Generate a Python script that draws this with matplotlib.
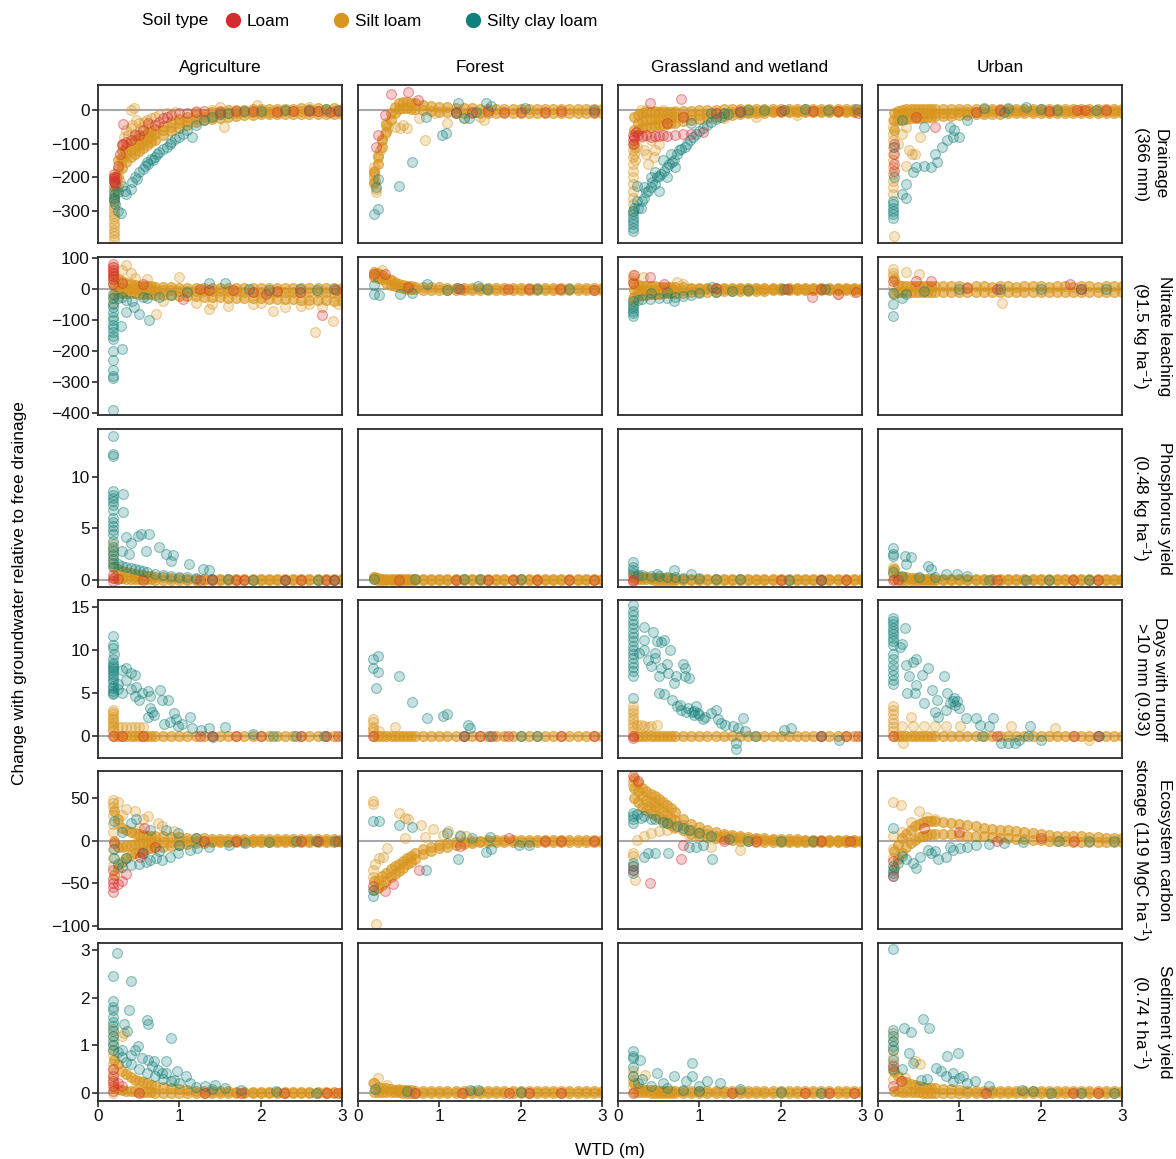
import matplotlib
matplotlib.use("Agg")
import matplotlib.pyplot as plt
from matplotlib.lines import Line2D
from matplotlib.colors import to_rgba

plt.rcParams['font.family'] = ['Liberation Sans', 'DejaVu Sans']
plt.rcParams['mathtext.fontset'] = 'custom'
plt.rcParams['mathtext.rm'] = 'Liberation Sans'
plt.rcParams['mathtext.it'] = 'Liberation Sans:italic'
plt.rcParams['mathtext.bf'] = 'Liberation Sans:bold'

# ---------------- DATA ----------------
soil_names = ['Loam', 'Silt loam', 'Silty clay loam']
soil_colors = {'loam': '#D52A2E', 'silt': '#D9961E', 'clay': '#11807A'}
col_titles = ['Agriculture', 'Forest', 'Grassland and wetland', 'Urban']
row_labels = ['Drainage\n(366 mm)',
              'Nitrate leaching\n(91.5 kg ha$^{-1}$)',
              'Phosphorus yield\n(0.48 kg ha$^{-1}$)',
              'Days with runoff\n>10 mm (0.93)',
              'Ecosystem carbon\nstorage (119 MgC ha$^{-1}$)',
              'Sediment yield\n(0.74 t ha$^{-1}$)']
row_keys = ['drain', 'nit', 'phos', 'days', 'carb', 'sed']
col_keys = ['agri', 'forest', 'grass', 'urban']
x_ticks = [0, 1, 2, 3]
y_ticks = [[-300, -200, -100, 0], [-400, -300, -200, -100, 0, 100], [0, 5, 10],
           [0, 5, 10, 15], [-100, -50, 0, 50], [0, 1, 2, 3]]
y_lims = [(-395, 74), (-405, 102), (-0.7, 14.6), (-2.6, 15.8), (-104, 82), (-0.17, 3.15)]

# water table depths (m) of the dense silt-loam band
wtd = [0.2, 0.25, 0.3, 0.35, 0.4, 0.45, 0.5, 0.55, 0.6, 0.65, 0.7,
       0.8, 0.9, 1.0, 1.1, 1.2, 1.3, 1.4, 1.5, 1.6, 1.7, 1.8, 1.9,
       2.0, 2.1, 2.2, 2.3, 2.4, 2.5, 2.6, 2.7, 2.8, 2.9, 3.0]
flat0 = [0, 0, 0, 0, 0, 0, 0, 0, 0, 0, 0,
         0, 0, 0, 0, 0, 0, 0, 0, 0, 0, 0, 0,
         0, 0, 0, 0, 0, 0, 0, 0, 0, 0, 0]

# ---- Drainage ----
drain_agri_silt_band = [
    [-200, -150, -123, -110, -98, -90, -83, -76, -68, -62, -57, -47, -37, -28, -22, -16, -11, -7, -3, -1, 0, 1, 2, 3, 3, 4, 3, 4, 5, 4, 5, 4, 5, 4],
    [-230, -175, -148, -132, -119, -110, -103, -94, -86, -79, -72, -60, -50, -40, -33, -26, -21, -17, -13, -10, -8, -7, -6, -5, -5, -4, -4, -4, -3, -4, -3, -4, -3, -4],
    [-260, -200, -173, -155, -140, -130, -123, -112, -103, -95, -88, -74, -62, -53, -44, -37, -31, -27, -23, -20, -17, -15, -14, -13, -12, -12, -11, -12, -11, -12, -11, -12, -11, -12]]
drain_agri_silt_pts = [(0.2, -385), (0.2, -375), (0.2, -365), (0.2, -355), (0.2, -345), (0.2, -335), (0.2, -325), (0.2, -315),
                       (0.2, -305), (0.2, -295), (0.2, -285), (0.2, -275), (0.2, -265), (0.21, -250), (0.22, -240), (0.22, -225),
                       (0.21, -215), (0.25, -230), (0.27, -215), (0.3, -100), (0.32, -80), (0.35, -60), (0.37, -75), (0.4, -55),
                       (0.42, -45), (0.4, 0), (0.44, 5), (0.47, -30), (0.5, -40), (0.52, -60), (0.55, -50), (0.57, -35), (0.6, -30),
                       (0.62, -45), (0.65, -25), (0.7, -20), (0.75, -15), (0.85, -10), (0.95, -5), (1.55, -50), (1.5, 8), (1.95, 15),
                       (1.2, -3), (1.4, 0), (2.6, 8), (0.3, -140), (0.33, -125), (0.45, -70)]
drain_agri_loam_pts = [(0.2, -200), (0.2, -205), (0.2, -210), (0.2, -215), (0.21, -220), (0.22, -200), (0.2, -190), (0.24, -165),
                       (0.27, -130), (0.31, -100), (0.3, -105), (0.35, -95), (0.31, -43), (0.4, -88), (0.45, -75), (0.5, -75),
                       (0.55, -60), (0.62, -40), (0.7, -45), (0.75, -35), (0.8, -25), (0.85, -20), (0.9, -15), (1.0, -10), (1.1, -8),
                       (1.2, -5), (1.3, -3), (1.5, -5), (1.7, -3), (1.9, -4), (2.2, -5), (2.4, -3), (2.6, -4), (2.7, -2), (2.85, -5), (2.95, -4)]
drain_agri_clay_pts = [(0.2, -240), (0.2, -250), (0.2, -260), (0.2, -270), (0.21, -280), (0.25, -300), (0.28, -305), (0.25, -245),
                       (0.3, -225), (0.33, -240), (0.35, -250), (0.4, -235), (0.42, -215), (0.45, -200), (0.48, -205), (0.5, -185),
                       (0.55, -175), (0.58, -165), (0.6, -155), (0.62, -160), (0.65, -145), (0.68, -150), (0.7, -140), (0.72, -130),
                       (0.75, -125), (0.8, -115), (0.85, -110), (0.88, -100), (0.9, -95), (0.95, -85), (1.0, -80), (1.05, -70), (1.1, -60),
                       (1.15, -80), (1.2, -45), (1.3, -30), (1.4, -20), (1.5, -12), (1.6, -8), (1.8, -4), (2.0, -2), (2.3, -1), (2.6, 0),
                       (2.8, 2), (2.95, 0)]

drain_forest_silt_band = [
    [-185, -140, -90, -45, -10, 10, 20, 25, 25, 22, 20, 15, 12, 10, 8, 6, 5, 5, 4, 4, 3, 3, 3, 3, 3, 2, 3, 2, 3, 2, 3, 2, 3, 2],
    [-215, -160, -110, -65, -30, -10, 2, 5, 5, 3, 2, 0, -2, -5, -6, -8, -8, -8, -8, -8, -9, -9, -9, -9, -9, -10, -10, -10, -10, -10, -10, -10, -10, -10]]
drain_forest_silt_pts = [(0.2, -180), (0.2, -190), (0.2, -200), (0.21, -210), (0.2, -220), (0.22, -235), (0.22, -245), (0.2, -170),
                         (0.25, -135), (0.27, -120), (0.3, -85), (0.33, -70), (0.35, -40), (0.37, -50), (0.45, -50), (0.52, -55),
                         (0.55, -45), (0.6, -55), (0.75, -25), (0.82, -88), (1.1, -40), (1.3, -25), (1.5, -20), (1.55, -30), (0.95, -10)]
drain_forest_loam_pts = [(0.22, -110), (0.24, -75), (0.33, -15), (0.41, 46), (0.62, 54), (0.74, 29), (1.2, -5), (1.4, -5), (1.6, -3),
                         (1.8, -5), (2.0, -5), (2.3, -5), (2.5, -4), (2.9, -5)]
drain_forest_clay_pts = [(0.2, -310), (0.25, -295), (0.22, -230), (0.25, -205), (0.5, -225), (0.66, -154), (0.84, -21), (1.03, -73),
                         (1.08, -69), (1.23, 20), (1.3, -25), (1.37, -25), (1.57, 22), (1.64, 12), (2.05, 5), (2.9, 0), (1.2, -10), (1.45, -5)]

drain_grass_silt_band = [
    [-20, -15, -8, -5, -5, -5, -5, -5, -5, -5, -5, -3, -2, 0, 0, 1, 2, 2, 3, 3, 3, 3, 3, 3, 3, 3, 3, 3, 3, 3, 3, 3, 3, 3],
    [-60, -40, -32, -30, -28, -27, -26, -25, -24, -22, -21, -18, -16, -14, -12, -10, -8, -7, -6, -5, -4, -4, -3, -3, -2, -2, -2, -2, -2, -2, -2, -2, -2, -2],
    [-100, -60, -55, -52, -50, -48, -46, -44, -42, -40, -38, -34, -30, -27, -23, -20, -17, -14, -12, -10, -9, -8, -7, -6, -6, -5, -5, -5, -5, -5, -5, -5, -5, -5]]
drain_grass_silt_pts = [(0.19, -120), (0.19, -140), (0.19, -160), (0.19, -180), (0.19, -200), (0.19, -220), (0.19, -240), (0.19, -260),
                        (0.19, -280), (0.19, -300), (0.2, -80), (0.2, -130), (0.21, -150), (0.2, -110), (0.28, 0), (0.35, 0), (0.45, -3),
                        (0.55, 0), (0.7, -2), (0.46, -120), (0.44, -140), (0.37, -160), (0.32, -120), (0.41, -90), (0.23, -110), (0.3, -80),
                        (0.35, -130), (0.5, -100), (1.3, -25), (1.7, -20), (2.2, -15)]
drain_grass_loam_pts = [(0.39, 21), (0.78, 33), (0.19, -75), (0.2, -80), (0.25, -75), (0.3, -78), (0.35, -75), (0.4, -80), (0.45, -76),
                        (0.5, -78), (0.55, -75), (0.6, -77), (0.7, -75), (0.8, -72), (0.9, -70), (1.05, -65), (0.19, -100), (0.19, -90),
                        (0.22, -65), (1.2, -10), (1.5, -3), (2.0, -2), (2.4, -3), (2.7, -2), (2.95, -8), (0.6, -40), (0.8, -20)]
drain_grass_clay_pts = [(0.19, -300), (0.19, -310), (0.19, -320), (0.19, -330), (0.19, -340), (0.19, -350), (0.19, -360), (0.2, -290),
                        (0.23, -225), (0.23, -270), (0.25, -290), (0.28, -290), (0.3, -270), (0.32, -260), (0.35, -245), (0.37, -240),
                        (0.4, -230), (0.42, -215), (0.46, -220), (0.48, -200), (0.5, -195), (0.53, -190), (0.56, -180), (0.6, -170),
                        (0.63, -160), (0.66, -155), (0.69, -150), (0.72, -130), (0.75, -120), (0.78, -115), (0.82, -110), (0.85, -100),
                        (0.89, -90), (0.92, -80), (0.96, -70), (1.0, -62), (1.05, -55), (1.1, -45), (1.14, -35), (1.2, -27), (1.27, -20),
                        (1.35, -12), (1.5, -5), (1.6, 0), (1.8, 0), (2.04, 0), (2.3, 2), (2.58, 0), (2.94, 3), (0.32, -230), (0.4, -200),
                        (0.45, -185), (0.55, -150), (0.65, -130), (0.7, -170), (0.6, -200), (0.5, -240), (1.14, -10), (0.9, -40), (1.3, -8)]

drain_urban_silt_band = [
    [-10, -2, 0, 2, 3, 3, 3, 3, 3, 3, 3, 3, 3, 3, 4, 4, 4, 4, 4, 4, 4, 4, 4, 4, 4, 4, 4, 4, 4, 4, 4, 4, 4, 4],
    [-30, -12, -10, -10, -10, -10, -10, -10, -9, -9, -9, -8, -8, -7, -6, -5, -5, -4, -4, -4, -4, -3, -3, -3, -3, -3, -3, -3, -3, -3, -3, -3, -3, -3],
    [-60, -30, -28, -26, -25, -24, -23, -22, -21, -20, -19, -18, -17, -16, -15, -13, -12, -11, -11, -10, -10, -10, -10, -10, -10, -10, -10, -10, -10, -10, -10, -10, -10, -10]]
drain_urban_silt_pts = [(0.19, -30), (0.19, -50), (0.19, -70), (0.19, -90), (0.19, -110), (0.19, -130), (0.19, -150), (0.19, -170),
                        (0.19, -190), (0.19, -210), (0.19, -230), (0.19, -250), (0.34, -50), (0.38, -120), (0.34, -165), (0.52, -80),
                        (0.2, -375), (0.45, -130), (0.42, -132), (0.3, -70), (0.25, -100)]
drain_urban_loam_pts = [(0.2, -130), (0.2, -160), (0.2, -180), (0.2, -100), (0.7, -50), (0.47, -20), (1.5, 0), (2.45, 0), (2.55, 0),
                        (2.8, 0), (1.2, -5), (2.1, -3)]
drain_urban_clay_pts = [(0.19, -270), (0.19, -280), (0.19, -290), (0.19, -300), (0.19, -310), (0.19, -320), (0.2, -110), (0.2, -200),
                        (0.29, -250), (0.34, -260), (0.34, -220), (0.43, -185), (0.47, -170), (0.56, -165), (0.65, -170), (0.72, -155),
                        (0.7, -130), (0.79, -110), (0.85, -90), (0.92, -80), (0.99, -80), (0.94, -60), (0.88, -50), (0.56, -50), (0.29, -30),
                        (1.1, -30), (1.55, -5), (1.82, 10), (2.2, 0), (2.68, 0), (1.3, 5), (1.6, 5), (2.0, 3)]

# ---- Nitrate leaching ----
nit_agri_silt_band = [
    [40, 30, 25, 20, 15, 12, 10, 10, 8, 8, 6, 5, 5, 4, 4, 3, 3, 3, 3, 3, 3, 3, 2, 2, 2, 2, 2, 2, 2, 2, 2, 2, 2, 2],
    [10, 5, 3, 2, 0, 0, -2, -3, -3, -4, -4, -5, -5, -6, -6, -6, -7, -7, -8, -8, -8, -9, -9, -9, -10, -10, -10, -10, -11, -11, -11, -11, -12, -12],
    [-20, -15, -15, -14, -14, -15, -16, -17, -18, -18, -19, -20, -20, -22, -22, -24, -25, -25, -27, -28, -28, -30, -30, -30, -32, -32, -33, -33, -35, -35, -36, -36, -38, -38]]
nit_agri_silt_pts = [(0.18, 70), (0.18, 60), (0.18, 50), (0.18, 40), (0.18, 30), (0.18, 20), (0.18, -30), (0.18, -45), (0.34, 75),
                     (0.3, 60), (0.4, 50), (1.0, 38), (0.71, -80), (1.37, -65), (2.15, -70), (2.67, -140), (2.89, -102), (1.6, -55),
                     (1.9, -50), (2.3, -60), (2.5, -55), (2.75, -60), (2.95, -50), (1.2, -45), (0.8, -40), (2.0, -45), (2.6, -48),
                     (1.4, -50), (0.6, 30), (0.45, 35)]
nit_agri_loam_pts = [(0.18, 80), (0.18, 70), (0.18, 60), (0.18, 50), (0.18, 40), (0.18, 30), (0.18, 16), (0.55, 16), (1.04, -32),
                     (1.25, 0), (1.36, -5), (1.66, -5), (2.07, -16), (2.48, -11), (2.75, -84), (2.93, -5), (0.3, 20), (2.2, -8), (1.9, -10)]
nit_agri_clay_pts = [(0.18, -16), (0.18, -30), (0.18, -50), (0.18, -60), (0.18, -75), (0.18, -90), (0.18, -100), (0.18, -115),
                     (0.18, -125), (0.18, -140), (0.18, -150), (0.18, -160), (0.18, -200), (0.18, -230), (0.18, -260), (0.18, -280),
                     (0.18, -285), (0.18, -390), (0.3, -194), (0.28, -118), (0.34, -75), (0.44, -59), (0.5, -80), (0.63, -99), (0.3, -27),
                     (0.42, -38), (0.75, -27), (1.37, 19), (1.56, 19), (1.86, 0), (2.48, 0), (2.69, -5), (0.25, -30), (0.35, -35),
                     (0.55, -25), (0.6, -30), (0.9, -20), (1.1, -10), (2.1, -3), (2.9, -2)]

nit_forest_silt_band = [
    [54, 50, 45, 35, 27, 20, 15, 12, 10, 8, 7, 6, 5, 5, 4, 4, 4, 4, 3, 3, 3, 3, 3, 3, 3, 3, 3, 3, 3, 3, 3, 3, 3, 3],
    [38, 35, 30, 20, 12, 8, 5, 3, 0, -1, -2, -3, -3, -4, -4, -4, -4, -5, -5, -5, -5, -5, -5, -5, -5, -5, -5, -5, -5, -5, -5, -5, -5, -5]]
nit_forest_silt_pts = [(0.3, 59), (0.41, 27), (0.45, 21), (0.2, 45), (0.22, 50), (0.26, 42)]
nit_forest_loam_pts = [(0.33, 48), (0.2, 48), (0.62, 5), (1.25, 0), (1.85, 0), (2.1, 0), (2.48, 0), (2.9, -3)]
nit_forest_clay_pts = [(0.2, 11), (0.2, -16), (0.26, -21), (0.52, -16), (0.66, -14), (0.85, 16), (1.09, -5), (1.23, 3), (1.47, 8),
                       (1.59, 0), (2.2, 0), (2.6, 0)]

nit_grass_silt_band = [
    [15, 12, 10, 9, 8, 8, 7, 7, 6, 6, 5, 5, 4, 4, 4, 3, 3, 3, 3, 3, 3, 3, 3, 2, 2, 2, 2, 2, 2, 2, 2, 2, 2, 2],
    [-5, -5, -5, -5, -4, -4, -4, -4, -3, -3, -3, -3, -2, -2, -2, -2, -1, -1, -1, -1, -1, -1, 0, 0, 0, 0, 0, 0, 0, 0, 0, 0, 0, 0],
    [-25, -22, -20, -19, -18, -17, -16, -15, -14, -14, -13, -12, -11, -10, -9, -9, -8, -7, -7, -6, -6, -6, -5, -5, -5, -5, -5, -5, -5, -5, -5, -5, -5, -5]]
nit_grass_silt_pts = [(0.19, 43), (0.19, 35), (0.19, 25), (0.19, -30), (0.19, -40), (0.19, -48), (0.31, 38), (0.73, 21), (0.8, 16),
                      (2.7, -16), (2.9, -10)]
nit_grass_loam_pts = [(0.2, 43), (0.39, 38), (0.56, 16), (2.38, -27), (2.7, -16), (2.93, -11), (2.08, 0), (2.5, 0), (1.2, 2), (0.19, 20)]
nit_grass_clay_pts = [(0.19, -54), (0.19, -62), (0.19, -70), (0.19, -78), (0.19, -86), (0.19, -40), (0.25, -35), (0.3, -33), (0.39, -32),
                      (0.5, -30), (0.6, -28), (0.69, -38), (0.7, -25), (0.8, -22), (0.9, -20), (1.0, -15), (1.15, 5), (1.2, -10), (1.4, -6),
                      (1.6, -3), (2.04, 0), (2.55, 0), (0.4, -15), (0.6, -10)]

nit_urban_silt_band = [
    [30, 12, 10, 10, 9, 10, 9, 9, 9, 8, 8, 8, 8, 8, 7, 8, 8, 7, 8, 8, 7, 8, 8, 8, 7, 8, 8, 7, 8, 8, 7, 8, 8, 8],
    [-17, -10, -10, -9, -10, -10, -9, -10, -10, -9, -10, -10, -9, -10, -10, -9, -10, -10, -9, -10, -10, -9, -10, -10, -9, -10, -10, -9, -10, -10, -9, -10, -10, -10]]
nit_urban_silt_pts = [(0.19, 63), (0.19, 50), (0.19, 40), (0.34, 53), (0.5, 49), (1.52, -47), (0.19, 10)]
nit_urban_loam_pts = [(0.19, 26), (0.47, 26), (0.65, 26), (1.46, 0), (2.36, 15), (2.5, 0), (1.1, 3)]
nit_urban_clay_pts = [(0.19, -12), (0.19, -50), (0.19, -87), (0.29, -28), (0.34, -17), (0.56, -6), (1.0, 0), (1.5, 0), (2.0, 0), (2.5, 0), (2.8, 0)]

# ---- Phosphorus yield ----
phos_agri_silt_band = [
    [1.2, 1.0, 0.85, 0.75, 0.65, 0.55, 0.5, 0.45, 0.4, 0.35, 0.3, 0.25, 0.2, 0.15, 0.12, 0.1, 0.08, 0.07, 0.06, 0.05, 0.05, 0.05, 0.05, 0.05, 0.05, 0.05, 0.05, 0.05, 0.05, 0.05, 0.05, 0.05, 0.05, 0.05],
    [0.2, 0.2, 0.15, 0.12, 0.1, 0.08, 0.06, 0.05, 0.04, 0.03, 0.02, 0.02, 0.01, 0.01, 0, 0, 0, 0, 0, 0, 0, 0, 0, 0, 0, 0, 0, 0, 0, 0, 0, 0, 0, 0]]
phos_agri_silt_pts = [(0.18, 3.5), (0.18, 3.0), (0.18, 2.5), (0.18, 2.0), (0.18, 1.5), (0.3, 0.2)]
phos_agri_loam_pts = [(0.18, 0.2), (0.18, -0.1), (0.18, 0.5), (0.55, 0), (1.25, 0), (1.4, 0), (1.7, 0), (1.8, 0), (2.3, 0), (2.5, 0),
                      (2.8, 0), (2.9, 0), (0.25, 0.1)]
phos_agri_clay_pts = [(0.18, 13.9), (0.18, 12.2), (0.18, 12.0), (0.18, 8.6), (0.18, 8.2), (0.18, 7.9), (0.18, 7.6), (0.18, 7.2),
                      (0.18, 6.8), (0.18, 6.0), (0.18, 5.6), (0.18, 5.2), (0.18, 4.8), (0.18, 4.4), (0.18, 3.8), (0.18, 3.2), (0.18, 2.8),
                      (0.18, 2.4), (0.18, 2.0), (0.18, 1.6), (0.18, 1.2), (0.31, 8.3), (0.31, 6.6), (0.34, 4.1), (0.4, 3.6), (0.49, 4.2),
                      (0.53, 4.4), (0.63, 4.4), (0.75, 3.2), (0.84, 2.5), (0.92, 2.4), (0.9, 1.8), (0.59, 2.8), (1.12, 1.5), (1.29, 1.0),
                      (1.37, 0.9), (0.3, 2.8), (0.38, 2.5), (0.25, 1.5), (0.3, 1.3), (0.35, 1.2), (0.4, 1.1), (0.45, 1.0), (0.5, 0.9),
                      (0.55, 0.85), (0.6, 0.8), (0.7, 0.6), (0.8, 0.5), (0.9, 0.4), (1.0, 0.3), (1.1, 0.25), (1.2, 0.2), (1.4, 0.1),
                      (1.6, 0.05), (1.9, 0), (2.3, 0), (2.7, 0), (2.9, 0)]

phos_forest_silt_band = [
    [0.25, 0.15, 0.12, 0.1, 0.1, 0.08, 0.08, 0.07, 0.07, 0.06, 0.06, 0.06, 0.05, 0.05, 0.05, 0.05, 0.05, 0.05, 0.05, 0.05, 0.05, 0.05, 0.05, 0.05, 0.05, 0.05, 0.05, 0.05, 0.05, 0.05, 0.05, 0.05, 0.05, 0.05],
    [0.05, 0.02, 0.02, 0.01, 0.01, 0.01, 0.01, 0.01, 0, 0, 0, 0, 0, 0, 0, 0, 0, 0, 0, 0, 0, 0, 0, 0, 0, 0, 0, 0, 0, 0, 0, 0, 0, 0]]
phos_forest_silt_pts = [(0.2, 0.3), (0.22, 0.2)]
phos_forest_loam_pts = [(0.5, 0), (1.2, 0), (1.6, 0), (1.9, 0), (2.2, 0), (2.6, 0), (2.9, 0)]
phos_forest_clay_pts = [(0.2, 0.1), (1.3, 0.05), (1.5, 0.05), (2.0, 0.05), (0.7, 0.05)]

phos_grass_silt_band = [
    [0.3, 0.28, 0.25, 0.22, 0.2, 0.18, 0.16, 0.15, 0.14, 0.13, 0.12, 0.1, 0.09, 0.08, 0.07, 0.06, 0.06, 0.05, 0.05, 0.05, 0.05, 0.05, 0.05, 0.05, 0.05, 0.05, 0.05, 0.05, 0.05, 0.05, 0.05, 0.05, 0.05, 0.05],
    [0.05, 0.05, 0.04, 0.03, 0.03, 0.02, 0.02, 0.02, 0.01, 0.01, 0.01, 0, 0, 0, 0, 0, 0, 0, 0, 0, 0, 0, 0, 0, 0, 0, 0, 0, 0, 0, 0, 0, 0, 0]]
phos_grass_silt_pts = [(0.19, 0.5), (0.19, 0.4)]
phos_grass_loam_pts = [(0.19, 0), (0.19, -0.1), (2.0, 0), (2.5, 0), (2.8, 0)]
phos_grass_clay_pts = [(0.18, 1.7), (0.18, 1.2), (0.18, 0.9), (0.18, 0.7), (0.69, 0.9), (0.9, 0.55), (0.48, 0.55), (0.25, 0.5),
                       (0.3, 0.45), (0.4, 0.4), (0.5, 0.35), (0.6, 0.3), (0.7, 0.25), (0.8, 0.2), (1.0, 0.15), (1.2, 0.1), (1.5, 0.05),
                       (2.1, 0.02), (2.5, 0.02)]

phos_urban_silt_band = [
    [1.0, 0.4, 0.3, 0.25, 0.2, 0.18, 0.15, 0.12, 0.1, 0.1, 0.08, 0.07, 0.06, 0.05, 0.05, 0.05, 0.05, 0.05, 0.05, 0.05, 0.05, 0.05, 0.05, 0.05, 0.05, 0.05, 0.05, 0.05, 0.05, 0.05, 0.05, 0.05, 0.05, 0.05],
    [0.05, 0.03, 0.02, 0.02, 0.01, 0.01, 0.01, 0, 0, 0, 0, 0, 0, 0, 0, 0, 0, 0, 0, 0, 0, 0, 0, 0, 0, 0, 0, 0, 0, 0, 0, 0, 0, 0]]
phos_urban_silt_pts = [(0.19, 1.2), (0.19, 0.9), (0.19, 0.6), (0.3, 0.2)]
phos_urban_loam_pts = [(0.19, 0), (1.46, 0), (2.4, 0), (2.7, 0), (0.25, 0)]
phos_urban_clay_pts = [(0.19, 3.1), (0.19, 2.5), (0.19, 2.3), (0.33, 2.3), (0.4, 2.2), (0.34, 1.5), (0.61, 1.3), (0.65, 1.0), (0.83, 0.55),
                       (0.97, 0.6), (1.1, 0.4), (0.3, 0.4), (1.37, 0), (1.82, 0), (2.1, 0), (0.19, 0.8), (0.5, 0.3), (0.7, 0.3), (2.6, 0)]

# ---- Days with runoff > 10 mm ----
days_agri_silt_band = [flat0]
days_agri_silt_pts = [(0.19, 3.0), (0.19, 2.8), (0.19, 2.5), (0.19, 2.2), (0.19, 2.0), (0.19, 1.8), (0.19, 1.5), (0.19, 1.2),
                      (0.19, 1.0), (0.19, 0.7), (0.19, 0.5), (0.25, 1), (0.3, 1), (0.35, 1), (0.4, 1), (0.45, 1), (0.5, 1), (0.55, 1)]
days_agri_loam_pts = [(0.19, 0), (0.3, 0), (0.55, 0), (1.25, 0), (1.4, 0), (1.7, 0), (2.0, 0), (2.5, 0), (2.8, 0), (2.95, 0)]
days_agri_clay_pts = [(0.19, 11.6), (0.19, 10.6), (0.19, 10.2), (0.19, 8.9), (0.19, 8.5), (0.19, 8.2), (0.19, 8.0), (0.19, 7.8),
                      (0.19, 7.5), (0.19, 7.2), (0.19, 7.0), (0.19, 6.6), (0.19, 6.2), (0.19, 5.8), (0.19, 5.5), (0.19, 5.2), (0.19, 5.0),
                      (0.19, 4.8), (0.25, 5.4), (0.3, 7.7), (0.35, 7.9), (0.4, 7.3), (0.45, 7.1), (0.35, 6.5), (0.4, 5.4), (0.47, 5.7),
                      (0.45, 4.6), (0.5, 4.2), (0.54, 5.0), (0.62, 5.2), (0.64, 4.6), (0.76, 5.3), (0.79, 4.2), (0.86, 4.2), (0.64, 3.2),
                      (0.62, 2.2), (0.69, 2.4), (0.67, 2.8), (0.81, 1.4), (0.88, 1.6), (0.93, 2.6), (0.96, 2.0), (1.03, 1.4), (1.13, 2.2),
                      (0.98, 1.1), (1.15, 0.9), (1.27, 0.7), (1.37, 0.9), (1.56, 1.0), (1.42, -0.1), (1.9, 0.2), (2.15, 0), (2.44, 0),
                      (2.78, 0), (0.25, 6.0), (0.3, 5.0), (0.2, 9.5)]

days_forest_silt_band = [flat0]
days_forest_silt_pts = [(0.19, 2.0), (0.19, 1.6), (0.19, 1.0), (0.19, 0.8), (0.19, 0.4), (0.46, 1.0), (0.26, 0.6)]
days_forest_loam_pts = [(0.19, 0), (1.3, 0), (1.5, 0), (1.65, 0), (1.85, 0), (2.5, 0), (2.9, 0)]
days_forest_clay_pts = [(0.19, 8.9), (0.25, 9.3), (0.19, 7.9), (0.24, 7.4), (0.22, 5.6), (0.5, 7.0), (0.66, 3.9), (0.85, 2.1), (1.04, 2.3),
                        (1.09, 2.5), (1.35, 1.25), (1.38, 0.9), (1.62, 0), (1.3, 0), (2.0, 0), (2.2, 0)]

days_grass_silt_band = [flat0]
days_grass_silt_pts = [(0.19, 3.4), (0.19, 3.0), (0.19, 2.6), (0.19, 2.2), (0.19, 1.8), (0.19, 1.4), (0.19, 1.0), (0.19, 0.6),
                       (0.23, 1.3), (0.32, 1.1), (0.41, 1.1), (0.48, 1.3), (0.28, 1.2), (0.37, 1.0)]
days_grass_loam_pts = [(0.19, 0), (0.19, -0.3), (2.5, 0), (2.8, 0), (2.95, 0)]
days_grass_clay_pts = [(0.19, 15.2), (0.19, 14.5), (0.19, 14.0), (0.19, 13.5), (0.19, 13.0), (0.19, 12.5), (0.19, 12.0), (0.19, 11.5),
                       (0.19, 11.0), (0.19, 10.5), (0.19, 10.0), (0.19, 9.5), (0.19, 9.0), (0.19, 8.5), (0.19, 8.0), (0.19, 7.5),
                       (0.19, 6.9), (0.19, 4.4), (0.32, 12.7), (0.43, 12.1), (0.32, 11.2), (0.32, 10.0), (0.37, 8.8), (0.26, 9.6),
                       (0.48, 11.0), (0.53, 10.9), (0.57, 11.1), (0.64, 10.0), (0.46, 9.6), (0.45, 9.0), (0.41, 8.1), (0.53, 7.9),
                       (0.5, 6.9), (0.6, 8.3), (0.62, 7.3), (0.69, 6.1), (0.71, 6.9), (0.8, 8.4), (0.82, 7.9), (0.82, 6.9), (0.87, 6.7),
                       (0.5, 5.0), (0.57, 4.8), (0.66, 4.2), (0.73, 3.4), (0.78, 3.0), (0.84, 2.8), (0.91, 2.8), (0.96, 3.4), (0.93, 2.4),
                       (1.0, 2.4), (1.07, 2.2), (1.14, 2.6), (1.2, 3.0), (1.23, 1.9), (1.27, 1.5), (1.32, 1.3), (1.41, 1.1), (1.47, 0.9),
                       (1.54, 2.1), (1.56, 0.5), (1.45, -0.85), (1.45, -1.6), (1.68, 0.0), (2.04, 0.7), (2.13, 0.9), (2.49, 0.0),
                       (2.72, -0.5), (0.86, 3.2), (0.93, 2.9), (0.98, 2.6), (0.76, 3.6), (1.05, 2.0)]

days_urban_silt_band = [flat0]
days_urban_silt_pts = [(0.19, 3.5), (0.19, 3.0), (0.19, 2.5), (0.19, 2.0), (0.19, 1.5), (0.19, 1.0), (0.19, 0.5), (0.4, 2.2),
                       (0.31, -0.85), (0.29, 1.1), (0.43, 1.1), (0.56, 1.1), (0.7, 1.1), (0.83, 1.1), (1.01, 1.1), (1.64, 1.1),
                       (2.18, 0.9), (2.59, -0.5)]
days_urban_loam_pts = [(0.19, 0), (1.46, 0), (2.41, 0), (2.7, 0)]
days_urban_clay_pts = [(0.19, 13.7), (0.19, 13.4), (0.19, 13.0), (0.19, 12.5), (0.19, 12.2), (0.19, 11.8), (0.19, 11.4), (0.19, 11.0),
                       (0.19, 10.6), (0.19, 9.5), (0.19, 8.9), (0.19, 8.2), (0.19, 7.7), (0.19, 7.1), (0.19, 6.5), (0.19, 6.0),
                       (0.33, 12.5), (0.29, 10.7), (0.27, 10.3), (0.34, 8.2), (0.43, 8.6), (0.47, 8.9), (0.38, 6.9), (0.47, 5.9),
                       (0.36, 5.0), (0.45, 5.0), (0.54, 7.1), (0.61, 7.9), (0.56, 3.8), (0.67, 5.3), (0.72, 4.2), (0.81, 6.9), (0.85, 5.0),
                       (0.88, 3.8), (0.92, 4.0), (0.97, 4.0), (0.99, 3.2), (0.83, 3.0), (0.74, 2.2), (0.7, 2.8), (1.08, 2.1), (1.21, 2.1),
                       (1.26, 1.3), (1.37, 1.1), (1.42, 2.1), (1.51, -0.85), (1.6, -0.85), (1.69, -0.85), (1.73, -0.5), (1.87, 1.1),
                       (1.85, 0.0), (2.0, -0.5), (1.28, 0.0), (2.72, 0.0), (0.93, 4.4), (0.95, 3.6)]

# ---- Ecosystem carbon storage ----
carb_agri_silt_band = [
    [35, 25, 15, 12, 10, 9, 8, 7, 6, 6, 5, 5, 4, 4, 3, 3, 3, 2, 2, 2, 2, 2, 2, 2, 2, 2, 2, 2, 2, 2, 2, 2, 2, 2],
    [0, -8, -8, -6, -5, -4, -3, -3, -2, -2, -1, -1, -1, 0, 0, 0, 0, 0, 0, 0, 0, 0, 0, 0, 0, 0, 0, 0, 0, 0, 0, 0, 0, 0],
    [-40, -32, -25, -20, -17, -15, -13, -12, -10, -9, -8, -7, -6, -5, -4, -3, -3, -2, -2, -2, -2, -2, -2, -2, -2, -2, -2, -2, -2, -2, -2, -2, -2, -2]]
carb_agri_silt_pts = [(0.19, 48), (0.19, 44), (0.19, 40), (0.19, 30), (0.19, 20), (0.19, 10), (0.19, -10), (0.19, -20), (0.19, -30),
                      (0.25, 45), (0.35, 37), (0.45, 35), (0.62, 29), (0.74, 21), (0.79, 17), (0.93, 11), (0.25, 21), (0.3, 30),
                      (0.55, 25), (0.5, 15)]
carb_agri_loam_pts = [(0.19, -35), (0.19, -45), (0.19, -50), (0.19, -55), (0.19, -60), (0.25, -51), (0.3, -47), (0.35, -39), (0.52, -19),
                      (0.54, -15), (0.57, 15), (0.2, -3), (1.3, 0), (1.7, 0), (2.5, 0), (2.7, 0), (2.95, 0), (0.7, -8)]
carb_agri_clay_pts = [(0.2, 23), (0.4, 21), (0.47, 25), (0.25, -27), (0.3, -31), (0.4, -29), (0.5, -27), (0.59, -25), (0.64, -23),
                      (0.71, -21), (0.79, -23), (0.88, -19), (0.98, -15), (1.13, -11), (1.22, -9), (1.37, -7), (1.61, -5), (1.81, -3),
                      (2.1, -2), (2.44, 0), (2.68, 0), (2.92, 0), (0.64, 13), (0.83, 13), (0.98, 9), (0.35, -20), (0.55, -15),
                      (0.75, -12), (0.2, -20), (0.2, -10), (0.3, 10), (1.0, -5), (1.2, 3)]

carb_forest_silt_band = [
    [-48, -46, -42, -38, -33, -30, -27, -24, -21, -18, -15, -10, -7, -5, -3, -2, -1, 0, 0, 1, 1, 1, 1, 1, 1, 1, 1, 1, 1, 1, 1, 1, 1, 1],
    [-58, -56, -52, -47, -43, -39, -36, -32, -28, -25, -22, -16, -12, -9, -7, -5, -4, -3, -2, -2, -2, -2, -2, -2, -2, -2, -2, -2, -2, -2, -2, -2, -2, -2]]
carb_forest_silt_pts = [(0.19, 47), (0.19, 43), (0.21, -27), (0.19, -43), (0.26, -21), (0.31, -19), (0.36, -9), (0.22, -98), (0.5, 32),
                        (0.58, 27), (0.62, 25), (0.77, 19), (0.92, 14), (1.11, 11), (1.26, 7), (1.33, 5), (0.58, 3), (0.82, 4), (1.04, 7),
                        (0.19, -35)]
carb_forest_loam_pts = [(0.19, -53), (0.33, -59), (0.43, -51), (0.75, -35), (1.26, -6), (1.86, 3), (2.49, 0), (2.3, 0), (2.9, 0)]
carb_forest_clay_pts = [(0.19, 23), (0.26, 23), (0.5, 18), (0.67, 16), (0.84, -35), (0.19, -65), (1.23, -22), (1.57, -13), (1.64, -10),
                        (1.09, 9), (1.26, 5), (1.4, 3), (1.62, 4), (1.98, -5), (2.1, -5), (0.19, -58)]

carb_grass_silt_band = [
    [74, 68, 62, 58, 55, 52, 49, 45, 42, 38, 34, 26, 20, 16, 12, 10, 8, 7, 5, 4, 3, 3, 2, 2, 2, 2, 1, 1, 1, 1, 1, 1, 1, 1],
    [62, 58, 52, 48, 45, 41, 38, 34, 30, 27, 24, 18, 13, 10, 8, 6, 5, 4, 3, 2, 2, 1, 1, 0, 0, 0, 0, 0, 0, 0, 0, 0, 0, 0],
    [50, 45, 40, 36, 33, 30, 27, 24, 21, 18, 16, 12, 8, 6, 4, 3, 2, 1, 0, 0, -1, -1, -1, -1, -1, -1, -1, -1, -1, -1, -1, -1, -1, -1]]
carb_grass_silt_pts = [(0.19, -15), (0.19, -18), (0.19, -30), (0.23, 1), (0.32, 5), (0.41, 9), (0.5, 11), (0.6, 13), (0.69, 15),
                       (0.87, 7), (1.14, -7), (1.5, -11), (0.21, -46), (0.46, 44), (0.37, 41), (0.19, 70), (0.19, 66)]
carb_grass_loam_pts = [(0.19, 76), (0.78, -22), (0.39, -50), (0.19, -34), (1.3, 0), (1.7, 0), (2.5, 0), (2.85, 0), (0.25, 70), (0.8, -5)]
carb_grass_clay_pts = [(0.19, 33), (0.19, 29), (0.19, 25), (0.19, 21), (0.19, -26), (0.19, -30), (0.19, -34), (0.19, -38), (0.23, 31),
                       (0.32, 29), (0.46, 25), (0.6, 21), (0.73, 17), (0.87, 13), (1.0, 9), (1.14, 5), (1.36, 2), (0.46, -15), (0.62, -15),
                       (0.87, -7), (0.96, -7), (1.05, -5), (1.16, -22), (0.32, -19), (0.37, -15), (0.28, 27), (0.4, 26), (0.55, 22),
                       (0.8, 15), (1.6, 0), (2.0, 0), (2.4, 0)]

carb_urban_silt_band = [
    [-12, -5, 3, 8, 12, 17, 20, 22, 23, 23, 23, 22, 21, 20, 18, 17, 15, 14, 13, 12, 11, 10, 9, 8, 7, 6, 6, 5, 5, 4, 4, 3, 3, 3],
    [-32, -22, -14, -8, -3, 1, 4, 6, 7, 8, 8, 8, 8, 7, 6, 5, 5, 4, 3, 3, 2, 2, 1, 1, 0, 0, 0, -1, -1, -1, -1, -1, -1, -1]]
carb_urban_silt_pts = [(0.19, 46), (0.28, 42), (0.5, 35), (0.7, 25), (0.19, 5), (0.19, -20), (0.19, -10), (0.3, 10), (0.4, 22), (0.6, 28)]
carb_urban_loam_pts = [(0.19, -42), (0.19, -24), (0.56, 15), (1.46, 0), (2.41, 0), (1.0, 10), (2.0, 3)]
carb_urban_clay_pts = [(0.19, 15), (0.19, -30), (0.19, -34), (0.19, -38), (0.19, -42), (0.25, -26), (0.34, -22), (0.43, -26), (0.52, -19),
                       (0.61, -11), (0.65, -15), (0.74, -22), (0.83, -19), (0.92, -11), (1.01, -9), (1.1, -7), (1.37, -4), (1.55, -3),
                       (1.78, -1), (2.23, 0), (0.47, -32), (0.3, -18), (0.7, -12), (0.88, -8), (1.2, -5), (2.6, 0), (2.9, 0)]

# ---- Sediment yield ----
sed_agri_silt_band = [
    [0.7, 0.6, 0.45, 0.4, 0.33, 0.28, 0.25, 0.22, 0.2, 0.17, 0.15, 0.12, 0.1, 0.08, 0.07, 0.05, 0.04, 0.03, 0.03, 0.03, 0.02, 0.02, 0.02, 0.02, 0.02, 0.02, 0.02, 0.02, 0.02, 0.02, 0.02, 0.02, 0.02, 0.02],
    [0.1, 0.08, 0.06, 0.05, 0.04, 0.03, 0.02, 0.02, 0.01, 0.01, 0, 0, 0, 0, 0, 0, 0, 0, 0, 0, 0, 0, 0, 0, 0, 0, 0, 0, 0, 0, 0, 0, 0, 0]]
sed_agri_silt_pts = [(0.19, 1.35), (0.19, 1.2), (0.19, 1.0), (0.19, 0.9), (0.19, 0.8), (0.19, 0.6), (0.19, 0.5), (0.19, 0.4), (0.19, 0.3),
                     (0.19, 0.2), (0.19, 0.0), (0.3, 1.19), (0.32, 1.26)]
sed_agri_loam_pts = [(0.19, 0.5), (0.19, 0.35), (0.19, 0.25), (0.19, 0.15), (0.19, 0.05), (0.3, 0.14), (0.5, 0), (1.32, 0), (1.76, 0),
                     (2.29, 0), (2.82, 0), (2.95, 0), (0.25, 0.2)]
sed_agri_clay_pts = [(0.23, 2.93), (0.19, 2.45), (0.41, 2.36), (0.38, 1.74), (0.19, 1.94), (0.19, 1.8), (0.19, 1.75), (0.19, 1.6),
                     (0.19, 1.5), (0.19, 1.4), (0.19, 1.3), (0.19, 1.2), (0.19, 1.1), (0.19, 1.0), (0.19, 0.9), (0.32, 1.45), (0.36, 1.3),
                     (0.6, 1.54), (0.62, 1.44), (0.9, 1.16), (0.49, 0.98), (0.45, 0.91), (0.3, 0.91), (0.4, 0.8), (0.54, 0.74),
                     (0.62, 0.7), (0.69, 0.67), (0.83, 0.68), (0.67, 0.56), (0.74, 0.49), (0.79, 0.42), (0.83, 0.42), (0.97, 0.46),
                     (1.08, 0.35), (0.93, 0.28), (1.13, 0.21), (1.44, 0.17), (1.56, 0.1), (1.32, 0.14), (1.76, 0.07), (2.19, 0.04),
                     (2.68, 0.0), (0.3, 0.75), (0.4, 0.6), (0.5, 0.5), (0.6, 0.42), (0.7, 0.35), (0.8, 0.3), (0.9, 0.25), (1.0, 0.2),
                     (1.2, 0.12), (1.4, 0.08), (0.25, 0.85), (0.35, 0.65)]

sed_forest_silt_band = [
    [0.2, 0.12, 0.1, 0.1, 0.08, 0.07, 0.07, 0.06, 0.06, 0.06, 0.05, 0.05, 0.05, 0.05, 0.05, 0.05, 0.05, 0.05, 0.05, 0.05, 0.05, 0.05, 0.05, 0.05, 0.05, 0.05, 0.05, 0.05, 0.05, 0.05, 0.05, 0.05, 0.05, 0.05],
    [0.02, 0.01, 0.01, 0.01, 0.01, 0.01, 0.01, 0, 0, 0, 0, 0, 0, 0, 0, 0, 0, 0, 0, 0, 0, 0, 0, 0, 0, 0, 0, 0, 0, 0, 0, 0, 0, 0]]
sed_forest_silt_pts = [(0.24, 0.31), (0.19, 0.21), (0.36, 0.16), (0.5, 0.08)]
sed_forest_loam_pts = [(1.28, 0), (1.86, 0), (2.49, 0), (2.1, 0), (0.7, 0)]
sed_forest_clay_pts = [(0.21, 0.08), (1.38, 0.06), (1.47, 0.07), (0.6, 0.03), (2.0, 0.02)]

sed_grass_silt_band = [
    [0.2, 0.1, 0.08, 0.07, 0.06, 0.06, 0.05, 0.05, 0.05, 0.05, 0.04, 0.04, 0.04, 0.04, 0.04, 0.04, 0.04, 0.04, 0.04, 0.04, 0.04, 0.04, 0.04, 0.04, 0.04, 0.04, 0.04, 0.04, 0.04, 0.04, 0.04, 0.04, 0.04, 0.04],
    [0.02, 0.01, 0.01, 0.01, 0, 0, 0, 0, 0, 0, 0, 0, 0, 0, 0, 0, 0, 0, 0, 0, 0, 0, 0, 0, 0, 0, 0, 0, 0, 0, 0, 0, 0, 0]]
sed_grass_silt_pts = [(0.19, 0.46), (0.19, 0.35), (0.19, 0.25), (0.33, 0.37), (0.19, 0.15)]
sed_grass_loam_pts = [(0.19, 0), (1.4, 0), (2.3, 0), (2.6, 0), (2.9, 0)]
sed_grass_clay_pts = [(0.19, 0.88), (0.19, 0.78), (0.19, 0.74), (0.27, 0.7), (0.19, 0.35), (0.48, 0.42), (0.69, 0.35), (0.91, 0.63),
                      (0.84, 0.25), (0.91, 0.35), (1.09, 0.25), (1.25, 0.21), (1.0, 0.14), (1.5, 0.08), (0.25, 0.2), (0.4, 0.15),
                      (0.6, 0.1), (0.8, 0.07), (1.0, 0.05), (0.19, 0.55), (0.3, 0.3), (0.55, 0.2), (2.0, 0.02), (2.5, 0.0)]

sed_urban_silt_band = [
    [0.45, 0.35, 0.25, 0.22, 0.18, 0.16, 0.14, 0.12, 0.11, 0.1, 0.1, 0.09, 0.08, 0.06, 0.05, 0.05, 0.04, 0.04, 0.03, 0.03, 0.03, 0.03, 0.03, 0.03, 0.03, 0.03, 0.03, 0.03, 0.03, 0.03, 0.03, 0.03, 0.03, 0.03],
    [0.05, 0.03, 0.02, 0.02, 0.01, 0.01, 0.01, 0, 0, 0, 0, 0, 0, 0, 0, 0, 0, 0, 0, 0, 0, 0, 0, 0, 0, 0, 0, 0, 0, 0, 0, 0, 0, 0]]
sed_urban_silt_pts = [(0.18, 1.25), (0.18, 1.1), (0.18, 0.9), (0.18, 0.75), (0.18, 0.6), (0.18, 0.45), (0.18, 0.3), (0.45, 0.67),
                      (0.52, 0.6), (0.33, 0.32)]
sed_urban_loam_pts = [(0.19, 0.56), (0.28, 0.25), (0.19, 0.14), (1.33, 0), (2.4, 0), (2.7, 0)]
sed_urban_clay_pts = [(0.18, 3.03), (0.18, 1.33), (0.18, 1.19), (0.18, 1.1), (0.18, 0.98), (0.32, 1.37), (0.4, 1.28), (0.55, 1.56),
                      (0.63, 1.37), (0.19, 0.91), (0.38, 0.84), (0.85, 0.77), (0.98, 0.83), (0.43, 0.63), (0.71, 0.53), (0.78, 0.46),
                      (0.92, 0.42), (0.99, 0.32), (1.05, 0.35), (1.19, 0.25), (1.37, 0.14), (1.77, 0.07), (1.9, 0.04), (2.13, 0.0),
                      (0.92, 0.25), (0.83, 0.35), (0.53, 0.28), (0.19, 0.7), (0.19, 0.5), (0.3, 0.5), (0.6, 0.3), (1.1, 0.2), (2.5, 0.0),
                      (2.9, 0.0)]

# ---------------- FIGURE ----------------
W, H = 1176, 1159
FS = 12.4
fig = plt.figure(figsize=(W / 100, H / 100), dpi=100)
col_x = [98, 358, 618, 878]
row_y = [85, 257, 429, 600, 771, 943]
pw, ph = 244, 158

S_PT = 50
frame_col = '#2a2a2a'


def draw_scatter(ax, xs, ys, color, fa, ea):
    ax.scatter(xs, ys, s=S_PT, facecolors=[to_rgba(color, fa)], edgecolors=[to_rgba(color, ea)],
               linewidths=0.8, zorder=2, clip_on=True)


g = globals()
for i, rk in enumerate(row_keys):
    for j, ck in enumerate(col_keys):
        ax = fig.add_axes([col_x[j] / W, 1 - (row_y[i] + ph) / H, pw / W, ph / H])
        ax.axhline(0, color='#a8a8a8', lw=1.5, zorder=1)
        for soil in ['silt', 'clay', 'loam']:
            color = soil_colors[soil]
            band = g.get(f'{rk}_{ck}_{soil}_band', [])
            for row in band:
                draw_scatter(ax, wtd[:len(row)], row, color, 0.6, 0.7)
            pts = g.get(f'{rk}_{ck}_{soil}_pts', [])
            if pts:
                xs = [p[0] for p in pts]
                ys = [p[1] for p in pts]
                draw_scatter(ax, xs, ys, color, 0.24, 0.45)
        ax.set_xlim(0, 3)
        ax.set_ylim(*y_lims[i])
        ax.set_xticks(x_ticks)
        ax.set_yticks(y_ticks[i])
        for sp in ax.spines.values():
            sp.set_linewidth(1.3)
            sp.set_color(frame_col)
        ax.tick_params(direction='out', length=4, width=1.2, labelsize=FS, pad=2,
                       color=frame_col, labelcolor='#111111')
        if j > 0:
            ax.tick_params(axis='y', left=False, labelleft=False)
        if i < len(row_keys) - 1:
            ax.tick_params(axis='x', bottom=False, labelbottom=False)
        if i == 0:
            ax.text(0.5, 1.108, col_titles[j], transform=ax.transAxes, ha='center', va='center', fontsize=FS)
        if j == len(col_keys) - 1:
            ax.text(1.118, 0.5, row_labels[i], transform=ax.transAxes, rotation=270, ha='center', va='center',
                    fontsize=FS, linespacing=1.25, multialignment='center')

fig.text(20 / W, 1 - 593 / H, 'Change with groundwater relative to free drainage', rotation=90,
         ha='center', va='center', fontsize=FS)
fig.text(610 / W, 1 - 1150 / H, 'WTD (m)', ha='center', va='center', fontsize=FS)

# legend
fig.text(142 / W, 1 - 21 / H, 'Soil type', ha='left', va='center', fontsize=FS)
leg_cols = [soil_colors['loam'], soil_colors['silt'], soil_colors['clay']]
handles = [Line2D([], [], ls='none', marker='o', markersize=10, markerfacecolor=c, markeredgecolor=c) for c in leg_cols]
fig.legend(handles, soil_names, ncol=3, loc='center left', bbox_to_anchor=(226 / W, 1 - 21 / H), frameon=False,
           borderaxespad=0, borderpad=0, handlelength=0.8, handletextpad=0.4, columnspacing=2.6, fontsize=FS)

fig.savefig('out.png', dpi=100)
